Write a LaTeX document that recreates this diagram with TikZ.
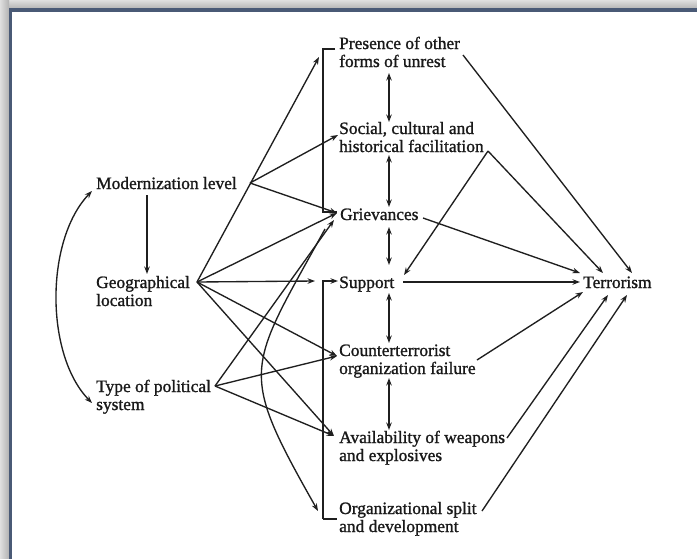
\documentclass[tikz,border=0pt]{standalone}
\usepackage{fontspec}
\setmainfont{Liberation Serif}[FakeBold=1.2]
\usetikzlibrary{arrows.meta,calc}
\definecolor{framecol}{RGB}{74,90,118}
\begin{document}
\begin{tikzpicture}[x=1pt,y=-1pt,
  lbl/.style={anchor=base west,inner sep=0pt,align=left,font=\fontsize{17.4}{18}\selectfont,text=black!90},
  conn/.style={line width=1.35pt,draw=black!88},
  arr/.style={conn,-{Stealth[length=7.5pt,width=5.5pt]}},
  darr/.style={conn,{Stealth[length=7.5pt,width=5.5pt]}-{Stealth[length=7.5pt,width=5.5pt]}},
]
\useasboundingbox (0,0) rectangle (697,558);
\fill[white] (0,0) rectangle (697,558);
\shade[top color=gray!25,bottom color=gray!60] (0,0) rectangle (697,9);
\shade[left color=gray!25,right color=gray!60] (0,0) rectangle (9,558);
\draw[line width=3.4pt,draw=framecol] (10.2,565) -- (10.2,9.8) -- (705,9.8);

% text nodes (base = baseline of the last line)
\node[lbl] (mod) at (96,189) {Modernization level};
\node[lbl] (geo) at (96,306) {Geographical\\location};
\node[lbl] (typ) at (96,410) {Type of political\\system};
\node[lbl] (pres) at (339,67) {Presence of other\\forms of unrest};
\node[lbl] (soc) at (339,152) {Social, cultural and\\historical facilitation};
\node[lbl] (grv) at (340,220) {Grievances};
\node[lbl] (sup) at (339,288) {Support};
\node[lbl] (ctr) at (339,374) {Counterterrorist\\organization failure};
\node[lbl] (avl) at (339,461) {Availability of weapons\\and explosives};
\node[lbl] (org) at (339,532) {Organizational split\\and development};
\node[lbl] (ter) at (583,288) {Terrorism};

% junction coordinates
\coordinate (modR) at (250,183);
\coordinate (modB) at (147,195);
\coordinate (geoT) at (147,274);
\coordinate (geoR) at (197,282);
\coordinate (typR) at (215,386);
\coordinate (modL) at (92,191);
\coordinate (typL) at (92,403);
\coordinate (presIn) at (319,57);
\coordinate (socIn) at (338,135);
\coordinate (grvIn) at (337,213);
\coordinate (grvIn2) at (334,220);
\coordinate (grvArc) at (325,229);
\coordinate (supIn) at (315,281);
\coordinate (ctrIn) at (337,356);
\coordinate (avlIn) at (334,436);
\coordinate (orgIn) at (318,511);
\coordinate (presR) at (463,55);
\coordinate (socR) at (488,151);
\coordinate (grvR) at (423,218);
\coordinate (supR) at (403,282);
\coordinate (supT) at (404,275);
\coordinate (ctrR) at (477,360);
\coordinate (avlR) at (507,438);
\coordinate (orgR) at (482,511);
\coordinate (terA) at (580,273);
\coordinate (terB) at (603,273);
\coordinate (terC) at (632,273);
\coordinate (terD) at (580,282);
\coordinate (terE) at (583,292);
\coordinate (terF) at (608,295);
\coordinate (terG) at (627,295);
% vertical arrows
\coordinate (v1a) at (389,73);  \coordinate (v1b) at (389,122);
\coordinate (v2a) at (389,155); \coordinate (v2b) at (389,207);
\coordinate (v3a) at (389,227); \coordinate (v3b) at (389,265);
\coordinate (v4a) at (389,293); \coordinate (v4b) at (389,343);
\coordinate (v5a) at (389,378); \coordinate (v5b) at (389,430);
% brackets
\coordinate (b1t) at (335,49); \coordinate (b1tc) at (323,49);
\coordinate (b1bc) at (323,212); \coordinate (b1b) at (337,212);
\coordinate (b2tc) at (323,281); \coordinate (b2t) at (338,281);
\coordinate (b2bc) at (323,519); \coordinate (b2b) at (337,519);

% left side
\draw[arr] (modB) -- (geoT);
\draw[darr] (modL) .. controls (45,240) and (45,355) .. (typL);

\draw[arr] (geoR) -- (presIn);
\draw[arr] (modR) -- (socIn);
\draw[arr] (modR) -- (grvIn);
\draw[arr] (geoR) -- (grvIn);
\draw[arr] (geoR) -- (supIn);
\draw[arr] (geoR) -- (ctrIn);
\draw[arr] (geoR) -- (avlIn);
\draw[arr] (typR) -- (grvIn2);
\draw[arr] (typR) -- (ctrIn);
\draw[arr] (typR) -- (avlIn);
\draw[arr] (grvArc) .. controls (247,371) and (237,368) .. (orgIn);

% brackets
\draw[conn] (b1t) -- (b1tc) -- (b1bc) -- (b1b);
\draw[arr] (b2bc) -- (b2tc) -- (b2t);
\draw[conn] (b2bc) -- (b2b);

% vertical double arrows
\draw[darr] (v1a) -- (v1b);
\draw[darr] (v2a) -- (v2b);
\draw[darr] (v3a) -- (v3b);
\draw[darr] (v4a) -- (v4b);
\draw[darr] (v5a) -- (v5b);

% to terrorism
\draw[arr] (presR) -- (terC);
\draw[arr] (socR) -- (terB);
\draw[arr] (socR) -- (supT);
\draw[arr] (grvR) -- (terA);
\draw[arr] (supR) -- (terD);
\draw[arr] (ctrR) -- (terE);
\draw[arr] (avlR) -- (terF);
\draw[arr] (orgR) -- (terG);
\end{tikzpicture}
\end{document}
